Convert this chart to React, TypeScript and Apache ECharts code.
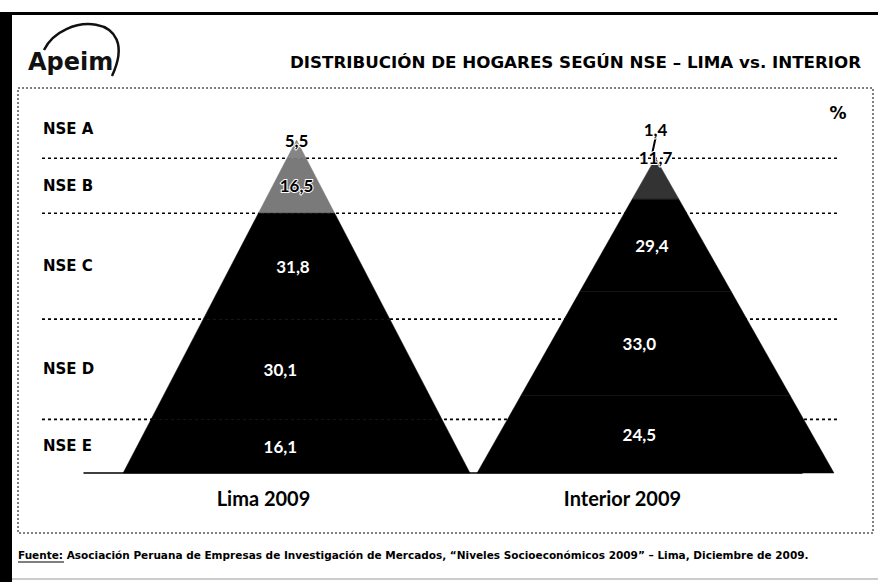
import React, { useEffect, useRef } from "react";
import * as echarts from "echarts";

// ---------- data ----------
const pyramids = ["Lima 2009", "Interior 2009"];
const levels = ["NSE A", "NSE B", "NSE C", "NSE D", "NSE E"];
const lima = [5.5, 16.5, 31.8, 30.1, 16.1];
const interior = [1.4, 11.7, 29.4, 33.0, 24.5];
const pyramidValues = [lima, interior];

const titleText = "DISTRIBUCIÓN DE HOGARES SEGÚN NSE – LIMA vs. INTERIOR";
const unitText = "%";
const sourceLead = "Fuente:";
const sourceText =
  " Asociación Peruana de Empresas de Investigación de Mercados, “Niveles Socioeconómicos 2009” – Lima, Diciembre de 2009.";

// ---------- layout / style ----------
const GRID = { left: 84, right: 76, top: 140, bottom: 109 };
const CENTER_OFFSET = 0.092;
const HALF_BASE = [0.483, 0.497];
const HEIGHT_SCALE = [1, 0.946];
const LABEL_SHIFT = [0, 0, -0.01, -0.045, -0.045];
const ROW_TOP = 112;
const OUTSIDE_MIN_PX = 40;
const OUTSIDE_STEP = 28;
const FILLS = [
  ["#858585", "#7a7a7a", "#000000", "#000000", "#000000"],
  ["#111111", "#333333", "#000000", "#000000", "#000000"],
];
const NUM_FONT = "Lato";
const HEAD_FONT = "DejaVu Sans";

const sum = (a: number[]) => a.reduce((s, v) => s + v, 0);
const lowOf = (arr: number[], i: number) => sum(arr.slice(i + 1));
const highOf = (arr: number[], i: number) => lowOf(arr, i) + arr[i];
const fmt = (v: number) => v.toFixed(1).replace(".", ",");

const bandData: number[][] = [];
pyramidValues.forEach((arr, p) => {
  arr.forEach((v, i) => {
    bandData.push([p, lowOf(arr, i), highOf(arr, i), v, i]);
  });
});

const boundaryData = lima.slice(0, lima.length - 1).map((_, i) => [0, lowOf(lima, i)]);
const rowLabelData = levels.map((_, i) => {
  const lo = lowOf(lima, i);
  const hi = i === 0 ? ROW_TOP : highOf(lima, i);
  return [0, (lo + hi) / 2, i];
});

export default function App() {
  const ref = useRef<HTMLDivElement>(null);
  useEffect(() => {
    if (!ref.current) return;
    const chart = echarts.init(ref.current, undefined, { renderer: "svg" });

    const bandRender = (params: any, api: any) => {
      const p = api.value(0);
      const lo = api.value(1);
      const hi = api.value(2);
      const lvl = api.value(4);
      const arr = pyramidValues[p];
      const total = sum(arr);
      const band = api.size([1, 0])[0];
      const base = api.coord([p, 0]);
      const cx = base[0] + CENTER_OFFSET * band;
      const half = HALF_BASE[p] * band;
      const hs = HEIGHT_SCALE[p];
      const yOf = (v: number) => api.coord([p, v * hs])[1];
      const wLo = half * (1 - lo / total);
      const wHi = half * (1 - hi / total);
      return {
        type: "polygon",
        shape: {
          points: [
            [cx - wLo, yOf(lo)],
            [cx + wLo, yOf(lo)],
            [cx + wHi, yOf(hi)],
            [cx - wHi, yOf(hi)],
          ],
        },
        style: { fill: FILLS[p][lvl], stroke: FILLS[p][lvl], lineWidth: 0.5 },
      };
    };

    const labelRender = (params: any, api: any) => {
      const p = api.value(0);
      const lo = api.value(1);
      const hi = api.value(2);
      const v = api.value(3);
      const lvl = api.value(4);
      const arr = pyramidValues[p];
      const total = sum(arr);
      const band = api.size([1, 0])[0];
      const base = api.coord([p, 0]);
      const cx = base[0] + CENTER_OFFSET * band;
      const hs = HEIGHT_SCALE[p];
      const yOf = (val: number) => api.coord([p, val * hs])[1];
      const apexY = yOf(total);
      const isOut = (j: number) => yOf(lowOf(arr, j)) - yOf(highOf(arr, j)) < OUTSIDE_MIN_PX;
      const children: any[] = [];
      let x = cx;
      let y: number;
      if (isOut(lvl)) {
        let k = 0;
        for (let j = lvl + 1; j < arr.length; j++) if (isOut(j)) k++;
        y = apexY - k * OUTSIDE_STEP;
        if (k > 0) {
          children.push({
            type: "line",
            shape: { x1: x, y1: y + 8, x2: cx - 3, y2: apexY - 6 },
            style: { stroke: "#000", lineWidth: 2 },
          });
        }
      } else {
        y = (yOf(lo) + yOf(hi)) / 2;
        x = cx + LABEL_SHIFT[lvl] * band;
      }
      const dark = lvl <= 1;
      children.push({
        type: "text",
        x,
        y,
        style: {
          text: fmt(v),
          fill: dark ? "#000" : "#fff",
          stroke: dark ? "#fff" : undefined,
          lineWidth: dark ? 2 : 0,
          font: `bold 17px ${NUM_FONT}`,
          textAlign: "center",
          textVerticalAlign: "middle",
        },
      });
      return { type: "group", children };
    };

    const lineRender = (params: any, api: any) => {
      const y = api.coord([0, api.value(1)])[1];
      const cs = params.coordSys;
      return {
        type: "line",
        shape: { x1: cs.x - 42, y1: y, x2: cs.x + cs.width + 37, y2: y },
        style: { stroke: "#000", lineWidth: 1.6, lineDash: [3, 3] },
      };
    };

    const rowRender = (params: any, api: any) => {
      const y = api.coord([0, api.value(1)])[1];
      const cs = params.coordSys;
      return {
        type: "text",
        x: cs.x - 41,
        y,
        style: {
          text: levels[api.value(2)],
          fill: "#000",
          font: `bold 15px ${HEAD_FONT}`,
          textAlign: "left",
          textVerticalAlign: "middle",
        },
      };
    };

    chart.setOption({
      animation: false,
      backgroundColor: "#ffffff",
      grid: { ...GRID, containLabel: false },
      xAxis: {
        type: "category",
        data: pyramids,
        axisLine: { show: true, lineStyle: { color: "#000", width: 1.5 } },
        axisTick: { show: false },
        axisLabel: {
          color: "#000",
          fontFamily: NUM_FONT,
          fontWeight: "bold",
          fontSize: 20,
          margin: 15,
        },
        splitLine: { show: false },
      },
      yAxis: {
        type: "value",
        min: 0,
        max: 100,
        show: false,
        splitLine: { show: false },
      },
      series: [
        {
          type: "custom",
          name: "lines",
          renderItem: lineRender,
          data: boundaryData,
          encode: { x: 0, y: 1 },
          clip: false,
          z: 1,
          silent: true,
        },
        {
          type: "custom",
          name: "rows",
          renderItem: rowRender,
          data: rowLabelData,
          encode: { x: 0, y: 1 },
          clip: false,
          z: 2,
          silent: true,
        },
        {
          type: "custom",
          name: "bands",
          renderItem: bandRender,
          data: bandData,
          encode: { x: 0, y: [1, 2] },
          clip: false,
          z: 3,
          silent: true,
        },
        {
          type: "custom",
          name: "labels",
          renderItem: labelRender,
          data: bandData,
          encode: { x: 0, y: [1, 2] },
          clip: false,
          z: 4,
          silent: true,
        },
      ],
      graphic: [
        { type: "rect", left: 0, top: 12, shape: { width: 12, height: 570 }, style: { fill: "#000" } },
        { type: "rect", left: 5, top: 12, shape: { width: 873, height: 3 }, style: { fill: "#000" } },
        {
          type: "line",
          shape: { x1: 12, y1: 579, x2: 878, y2: 579 },
          style: { stroke: "#999", lineWidth: 1 },
        },
        {
          type: "rect",
          shape: { x: 18, y: 88, width: 855, height: 445 },
          style: { fill: "none", stroke: "#000", lineWidth: 1, lineDash: [2, 2] },
        },
        {
          type: "text",
          x: 290,
          y: 62,
          style: {
            text: titleText,
            fill: "#000",
            font: `bold 16.7px ${HEAD_FONT}`,
            textAlign: "left",
            textVerticalAlign: "middle",
          },
        },
        {
          type: "text",
          x: 28,
          y: 62,
          style: {
            text: "Apeim",
            fill: "#111",
            font: `bold 24px ${HEAD_FONT}`,
            textAlign: "left",
            textVerticalAlign: "middle",
          },
        },
        {
          type: "bezierCurve",
          shape: { x1: 44, y1: 50, cpx1: 62, cpy1: 12, cpx2: 142, cpy2: 12, x2: 112, y2: 76 },
          style: { stroke: "#111", lineWidth: 2.5, fill: "none" },
        },
        {
          type: "text",
          x: 838,
          y: 113,
          style: {
            text: unitText,
            fill: "#000",
            font: `bold 17px ${HEAD_FONT}`,
            textAlign: "center",
            textVerticalAlign: "middle",
          },
        },
        {
          type: "text",
          x: 18,
          y: 555,
          style: {
            text: sourceLead + sourceText,
            fill: "#000",
            font: `bold 10.5px ${HEAD_FONT}`,
            textAlign: "left",
            textVerticalAlign: "middle",
          },
        },
        {
          type: "line",
          shape: { x1: 18, y1: 562, x2: 64, y2: 562 },
          style: { stroke: "#000", lineWidth: 1 },
        },
      ],
    });
    return () => chart.dispose();
  }, []);
  return (
    <div
      ref={ref}
      style={{ position: "absolute", left: 0, top: 0, width: 878, height: 582 }}
    />
  );
}
